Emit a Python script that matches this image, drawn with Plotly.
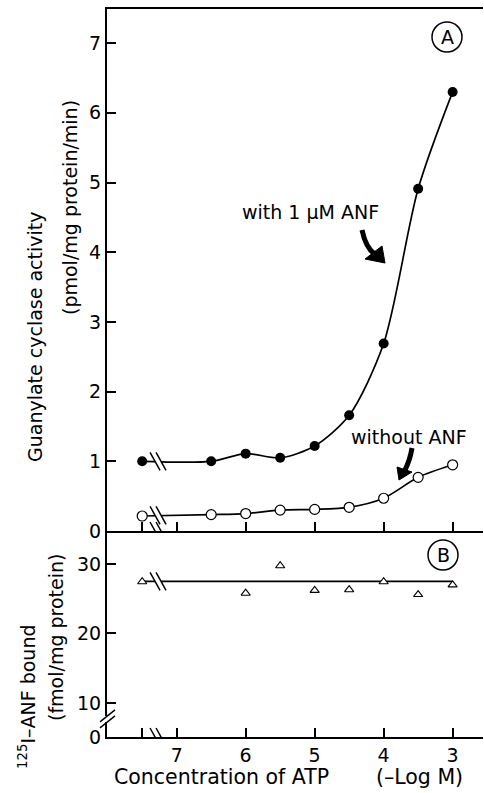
import plotly.graph_objects as go

# ---------------- data ----------------
# ATP concentration (-log M); the control (no ATP) is drawn left of the axis break
atp_ctrl = [7.5]
atp_neglog = [6.5, 6.0, 5.5, 5.0, 4.5, 4.0, 3.5, 3.0]

with_anf_ctrl = [1.0]
with_anf = [1.0, 1.11, 1.05, 1.22, 1.66, 2.69, 4.91, 6.3]

without_anf_ctrl = [0.215]
without_anf = [0.235, 0.25, 0.30, 0.31, 0.34, 0.47, 0.77, 0.95]

b_atp = [7.5, 6.0, 5.5, 5.0, 4.5, 4.0, 3.5, 3.0]
b_bound = [27.45, 25.8, 29.75, 26.2, 26.3, 27.45, 25.6, 27.0]
b_line_atp = [7.5, 3.0]
b_line_level = [27.5, 27.5]

x_tickvals = [7, 6, 5, 4, 3]
x_ticktext = ["7", "6", "5", "4", "3"]
x_ctrl_tick = [7.5]
ya_tickvals = [0, 1, 2, 3, 4, 5, 6, 7]
yb_tickvals = [5.1, 10, 20, 30]
yb_ticktext = ["0", "10", "20", "30"]
x_break = 7.27
yb_break = 7.7

FONT = "DejaVu Sans"
W, H = 484, 793
ML, MR, MT, MB = 107, 1, 9, 56
PW, PH = W - ML - MR, H - MT - MB


def px(xp):
    return (xp - ML) / PW


def py(yp):
    return (H - MB - yp) / PH


fig = go.Figure()

# Panel A curves
fig.add_trace(go.Scatter(
    x=atp_ctrl + atp_neglog, y=with_anf_ctrl + with_anf,
    mode="lines+markers", line=dict(color="black", width=1.7, shape="spline", smoothing=0.8),
    marker=dict(symbol="circle", size=10, color="black"),
    xaxis="x", yaxis="y", showlegend=False))
fig.add_trace(go.Scatter(
    x=atp_ctrl + atp_neglog, y=without_anf_ctrl + without_anf,
    mode="lines+markers", line=dict(color="black", width=1.7, shape="spline", smoothing=0.8),
    marker=dict(symbol="circle", size=10, color="white", line=dict(color="black", width=1.2)),
    xaxis="x", yaxis="y", showlegend=False))

# Panel B
fig.add_trace(go.Scatter(
    x=b_line_atp, y=b_line_level, mode="lines",
    line=dict(color="black", width=1.7), xaxis="x2", yaxis="y2", showlegend=False))
fig.add_trace(go.Scatter(
    x=b_atp, y=b_bound, mode="markers",
    marker=dict(symbol="triangle-up", size=8, color="white", line=dict(color="black", width=1.1)),
    xaxis="x2", yaxis="y2", showlegend=False))

tickfont = dict(family=FONT, size=19, color="black")
axcommon = dict(showgrid=False, zeroline=False, showline=True, linecolor="black", linewidth=2,
                ticks="inside", ticklen=9, tickwidth=1.5, tickcolor="black", tickfont=tickfont)
minor_x = dict(tickvals=x_ctrl_tick, ticks="inside", ticklen=9, tickwidth=1.5, tickcolor="black",
               showgrid=False)

dA = py(531)
fig.update_layout(
    width=W, height=H, margin=dict(l=ML, r=MR, t=MT, b=MB),
    paper_bgcolor="white", plot_bgcolor="white",
    xaxis=dict(domain=[0, 1], anchor="y", range=[8.01, 2.56], tickvals=x_tickvals,
               showticklabels=False, mirror=True, minor=minor_x, **axcommon),
    yaxis=dict(domain=[dA, 1], anchor="x", range=[0, 7.49], tickvals=ya_tickvals, **axcommon),
    xaxis2=dict(domain=[0, 1], anchor="y2", range=[8.01, 2.56], tickvals=x_tickvals,
                ticktext=x_ticktext, minor=minor_x, **axcommon),
    yaxis2=dict(domain=[0, dA], anchor="x2", range=[5.1, 34.75], tickvals=yb_tickvals,
                ticktext=yb_ticktext, **axcommon),
)

shapes = []


def xbreak(xref, yref, yval):
    # white gap then two backslash marks
    shapes.append(dict(type="rect", xref=xref, yref=yref, xsizemode="pixel", ysizemode="pixel",
                       xanchor=x_break, yanchor=yval, x0=-3, x1=3, y0=-3, y1=3,
                       fillcolor="white", line=dict(width=0), layer="above"))
    for dx in (-3, 3):
        shapes.append(dict(type="line", xref=xref, yref=yref, xsizemode="pixel", ysizemode="pixel",
                           xanchor=x_break, yanchor=yval, x0=dx - 5, x1=dx + 5, y0=9, y1=-9,
                           line=dict(color="black", width=1.5), layer="above"))


xbreak("x", "y", with_anf_ctrl[0])
xbreak("x", "y", (without_anf_ctrl[0] + without_anf[0]) / 2)
xbreak("x", "y", 0)
xbreak("x2", "y2", b_line_level[0])
xbreak("x2", "y2", 5.1)

# y-axis break on panel B
shapes.append(dict(type="rect", xref="paper", yref="y2", xsizemode="pixel", ysizemode="pixel",
                   xanchor=0, yanchor=yb_break, x0=-3, x1=3, y0=-3, y1=3,
                   fillcolor="white", line=dict(width=0), layer="above"))
for dy in (-3, 3):
    shapes.append(dict(type="line", xref="paper", yref="y2", xsizemode="pixel", ysizemode="pixel",
                       xanchor=0, yanchor=yb_break, x0=-7, x1=8, y0=dy - 6, y1=dy + 6,
                       line=dict(color="black", width=1.5), layer="above"))

# circled panel letters
for cx, cy, r in ((447, 37, 15), (443, 555, 15)):
    shapes.append(dict(type="circle", xref="paper", yref="paper", xsizemode="pixel", ysizemode="pixel",
                       xanchor=px(cx), yanchor=py(cy), x0=-r, x1=r, y0=-r, y1=r,
                       line=dict(color="black", width=1.5)))


# curved arrows
def arrow(tip, shaft, head):
    tx, ty = tip
    (sx0, sy0), (cx_, cy_), (sx1, sy1) = shaft
    shapes.append(dict(type="path", xref="paper", yref="paper", xsizemode="pixel", ysizemode="pixel",
                       xanchor=px(tx), yanchor=py(ty),
                       path=f"M {sx0},{sy0} Q {cx_},{cy_} {sx1},{sy1}",
                       line=dict(color="black", width=5)))
    (h1x, h1y), (h2x, h2y) = head
    shapes.append(dict(type="path", xref="paper", yref="paper", xsizemode="pixel", ysizemode="pixel",
                       xanchor=px(tx), yanchor=py(ty),
                       path=f"M 0,0 L {h1x},{h1y} L {h2x},{h2y} Z",
                       fillcolor="black", line=dict(color="black", width=1)))


arrow((385, 263), ((-23, 33), (-19, 14), (-9, 8)), ((-20, 4), (-3, 17)))
arrow((399, 480), ((13, 32), (11, 20), (6, 10)), ((-2, 13), (13, 8)))

fig.update_layout(shapes=shapes)

ann = []


def text(x, y, s, size=19, angle=0):
    ann.append(dict(xref="paper", yref="paper", x=px(x), y=py(y), text=s, showarrow=False,
                    textangle=angle, xanchor="center", yanchor="middle",
                    font=dict(family=FONT, size=size, color="black")))


text(447, 37, "A", 19)
text(443, 555, "B", 19)
text(310, 212, "with 1 μM ANF", 19)
text(409, 437, "without ANF", 19)
text(35, 337, "Guanylate cyclase activity", 19, -90)
text(70, 208, "(pmol/mg protein/min)", 19, -90)
text(27, 697, "<sup>125</sup>I–ANF bound", 19, -90)
text(56, 638, "(fmol/mg protein)", 19, -90)
text(221, 777, "Concentration of ATP", 20.5)
text(419, 777, "(–Log M)", 20.5)
fig.update_layout(annotations=ann)

fig.write_html("out.html", config={"displayModeBar": False},
               post_script="document.body.style.margin='0';")
